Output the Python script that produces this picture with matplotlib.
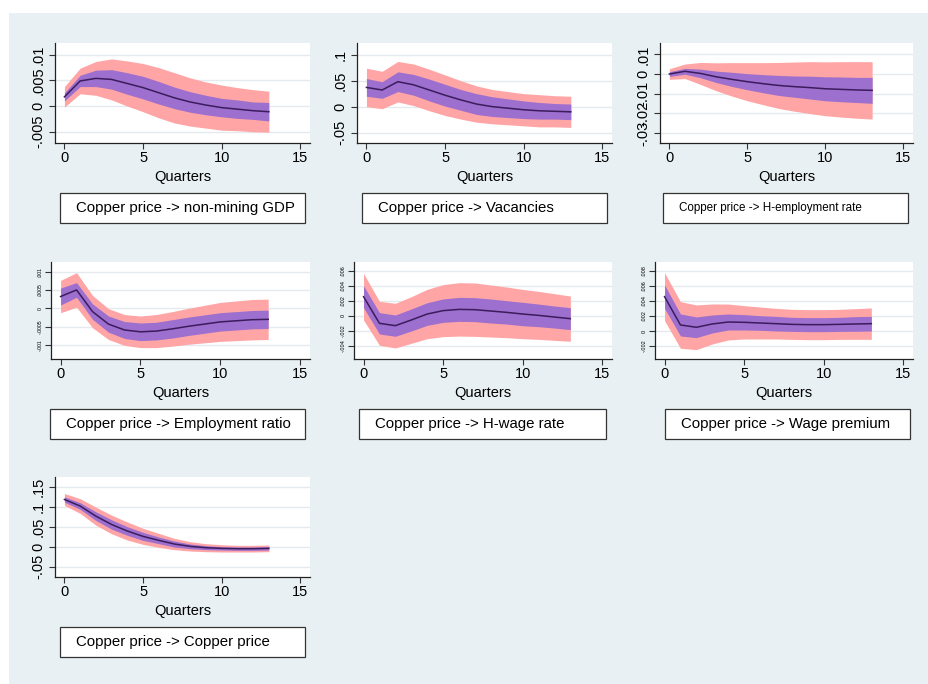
import numpy as np
import matplotlib
matplotlib.use("Agg")
import matplotlib.pyplot as plt
from matplotlib.patches import Rectangle
from matplotlib.transforms import offset_copy

plt.rcParams['font.family'] = ['Liberation Sans', 'DejaVu Sans']

# ---------------------------------------------------------------- data
quarters = np.arange(14)

gdp_irf = [0.0018, 0.0049, 0.0054, 0.0052, 0.0044, 0.0036, 0.0026, 0.0016, 0.0008, 0.0002, -0.0003, -0.0006, -0.0009, -0.0011]
gdp_w68 = [0.0008, 0.0011, 0.0016, 0.0019, 0.0021, 0.0022, 0.0022, 0.0021, 0.0020, 0.0019, 0.0018, 0.0018, 0.0017, 0.0018]
gdp_w95 = [0.0020, 0.0025, 0.0033, 0.0040, 0.0044, 0.0047, 0.0049, 0.0049, 0.0047, 0.0045, 0.0044, 0.0042, 0.0041, 0.0040]

vac_irf = [0.037, 0.032, 0.048, 0.042, 0.032, 0.022, 0.013, 0.005, 0.000, -0.003, -0.006, -0.008, -0.009, -0.010]
vac_w68 = [0.017, 0.016, 0.019, 0.020, 0.021, 0.021, 0.020, 0.020, 0.019, 0.018, 0.017, 0.016, 0.015, 0.015]
vac_w95 = [0.037, 0.036, 0.039, 0.040, 0.040, 0.039, 0.037, 0.035, 0.033, 0.032, 0.031, 0.031, 0.030, 0.030]

hemp_irf = [0.0, 0.0014, 0.0003, -0.0014, -0.0027, -0.0039, -0.0049, -0.0058, -0.0064, -0.0069, -0.0075, -0.0078, -0.0081, -0.0083]
hemp_w68 = [0.0012, 0.0015, 0.0022, 0.0029, 0.0036, 0.0041, 0.0046, 0.0051, 0.0054, 0.0058, 0.0061, 0.0063, 0.0064, 0.0066]
hemp_w95 = [0.0027, 0.0037, 0.0056, 0.0071, 0.0085, 0.0097, 0.0107, 0.0117, 0.0125, 0.0132, 0.0137, 0.0141, 0.0144, 0.0146]

emp_irf = [0.00032, 0.00050, -0.00009, -0.00043, -0.00059, -0.00064, -0.00062, -0.00056, -0.00049, -0.00043, -0.00037, -0.00034, -0.00031, -0.00030]
emp_w68 = [0.00023, 0.00020, 0.00021, 0.00022, 0.00023, 0.00024, 0.00024, 0.00025, 0.00025, 0.00025, 0.00025, 0.00025, 0.00025, 0.00025]
emp_w95 = [0.00044, 0.00047, 0.00044, 0.00042, 0.00042, 0.00043, 0.00045, 0.00047, 0.00049, 0.00051, 0.00053, 0.00054, 0.00055, 0.00055]

hwage_irf = [0.00253, -0.00102, -0.00133, -0.00058, 0.00022, 0.00067, 0.00084, 0.00080, 0.00062, 0.00044, 0.00022, 0.00004, -0.00018, -0.00040]
hwage_w68 = [0.00147, 0.00142, 0.00142, 0.00147, 0.00151, 0.00156, 0.00160, 0.00160, 0.00160, 0.00156, 0.00156, 0.00151, 0.00147, 0.00147]
hwage_w95 = [0.00311, 0.00293, 0.00298, 0.00311, 0.00329, 0.00347, 0.00356, 0.00356, 0.00347, 0.00338, 0.00329, 0.00320, 0.00311, 0.00302]

wprem_irf = [0.00455, 0.00080, 0.00049, 0.00093, 0.00119, 0.00115, 0.00106, 0.00097, 0.00088, 0.00084, 0.00084, 0.00088, 0.00093, 0.00097]
wprem_w68 = [0.00155, 0.00146, 0.00137, 0.00119, 0.00106, 0.00102, 0.00097, 0.00097, 0.00093, 0.00093, 0.00093, 0.00093, 0.00097, 0.00097]
wprem_w95 = [0.00318, 0.00309, 0.00296, 0.00265, 0.00238, 0.00221, 0.00212, 0.00203, 0.00199, 0.00199, 0.00199, 0.00199, 0.00203, 0.00208]

cu_irf = [0.119, 0.1025, 0.077, 0.056, 0.0395, 0.026, 0.016, 0.0067, 0.0008, -0.0025, -0.0042, -0.005, -0.005, -0.0042]
cu_w68 = [0.0067, 0.0084, 0.0109, 0.0118, 0.0109, 0.0101, 0.0084, 0.0076, 0.0059, 0.0050, 0.0042, 0.0042, 0.0042, 0.0042]
cu_w95 = [0.0151, 0.0185, 0.0227, 0.0235, 0.0227, 0.0202, 0.0176, 0.0143, 0.0118, 0.0101, 0.0092, 0.0084, 0.0084, 0.0084]

titles = [
    "Copper price -> non-mining GDP",
    "Copper price -> Vacancies",
    "Copper price -> H-employment rate",
    "Copper price -> Employment ratio",
    "Copper price -> H-wage rate",
    "Copper price -> Wage premium",
    "Copper price -> Copper price",
]

yticks_list = [
    [-0.005, 0, 0.005, 0.01],
    [-0.05, 0, 0.05, 0.1],
    [-0.03, -0.02, -0.01, 0, 0.01],
    [-0.001, -0.0005, 0, 0.0005, 0.001],
    [-0.004, -0.002, 0, 0.002, 0.004, 0.006],
    [-0.002, 0, 0.002, 0.004, 0.006, 0.008],
    [-0.05, 0, 0.05, 0.1, 0.15],
]
ylabels_list = [
    ["-.005", "0", ".005", ".01"],
    ["-.05", "0", ".05", ".1"],
    ["-.03", "-.02", "-.01", "0", ".01"],
    ["-.001", "-.0005", "0", ".0005", ".001"],
    ["-.004", "-.002", "0", ".002", ".004", ".006"],
    ["-.002", "0", ".002", ".004", ".006", ".008"],
    ["-.05", "0", ".05", ".1", ".15"],
]
xticks = [0, 5, 10, 15]
xlabels = ["0", "5", "10", "15"]

series = [
    (gdp_irf, gdp_w68, gdp_w95),
    (vac_irf, vac_w68, vac_w95),
    (hemp_irf, hemp_w68, hemp_w95),
    (emp_irf, emp_w68, emp_w95),
    (hwage_irf, hwage_w68, hwage_w95),
    (wprem_irf, wprem_w68, wprem_w95),
    (cu_irf, cu_w68, cu_w95),
]

# ---------------------------------------------------------------- layout (pixels)
W, H = 929, 684
DPI = 100

# (left, right, top, bottom) of each plot region
boxes = [
    (55, 310, 43, 143), (357, 612, 43, 143), (660, 913, 43, 143),
    (51, 310, 262, 359), (354, 612, 262, 359), (655, 913, 262, 359),
    (55, 310, 477, 577),
]
ylims = [
    (-0.0072, 0.0123), (-0.070, 0.1225), (-0.0351, 0.0158),
    (-0.00138, 0.00126), (-0.00578, 0.00716), (-0.00371, 0.00914),
    (-0.0764, 0.1757),
]
ytick_size = [10.5, 10.5, 10.5, 3.7, 4.0, 4.0, 10.5]
ytick_pad = [3, 3, 3, 2, 2, 2, 3]
title_size = [10.8, 10.8, 8.4, 10.8, 10.8, 10.8, 10.8]
legend_x = [(60, 305), (362, 607), (663, 908), (50, 305), (359, 606), (665, 910), (60, 305)]

BG = '#e8f0f3'
PINK = '#ffa5a5'
PURPLE = '#9d6fce'
LINE = '#3b1c5c'
GRID = '#e4eaed'


def fx(px):
    return px / W


def fy(py):
    return 1 - py / H


fig = plt.figure(figsize=(W / DPI, H / DPI), dpi=DPI, facecolor='white')
fig.add_artist(Rectangle((fx(9), 0), 1 - fx(9), fy(13), transform=fig.transFigure,
                         facecolor=BG, edgecolor='none', zorder=-10))

for i, ((irf, w68, w95), (l, r, t, b)) in enumerate(zip(series, boxes)):
    irf = np.asarray(irf)
    w68 = np.asarray(w68)
    w95 = np.asarray(w95)
    ax = fig.add_axes([fx(l), fy(b), (r - l) / W, (b - t) / H])
    ax.set_facecolor('white')
    ax.fill_between(quarters, irf - w95, irf + w95, color=PINK, lw=0, zorder=2)
    ax.fill_between(quarters, irf - w68, irf + w68, color=PURPLE, lw=0, zorder=3)
    ax.plot(quarters, irf, color=LINE, lw=1.1, zorder=4)

    ax.set_xlim(-0.6, 15.62)
    ax.set_ylim(*ylims[i])
    ax.set_xticks(xticks)
    ax.set_xticklabels(xlabels, fontsize=10.5)
    ax.set_yticks(yticks_list[i])
    ax.set_yticklabels(ylabels_list[i], fontsize=ytick_size[i], rotation=90, va='center')
    ax.tick_params(axis='x', length=4, width=0.8, color='#333333', pad=2)
    ax.tick_params(axis='y', length=4, width=0.8, color='#333333', pad=ytick_pad[i])
    for tk in ax.get_yticks():
        ax.axhline(tk, color=GRID, lw=1.0, zorder=1)
    for side in ('top', 'right'):
        ax.spines[side].set_visible(False)
    for side in ('left', 'bottom'):
        ax.spines[side].set_color('#222222')
        ax.spines[side].set_linewidth(0.9)

    # axis title
    tr = offset_copy(ax.get_xaxis_transform(), fig=fig, x=0, y=-34, units='dots')
    ax.text(7.5, 0, "Quarters", transform=tr, ha='center', va='center', fontsize=10.5)

    # caption box below each panel
    bl, br = legend_x[i]
    bt, bb = b + 50, b + 80
    fig.add_artist(Rectangle((fx(bl), fy(bb)), (br - bl) / W, (bb - bt) / H,
                             transform=fig.transFigure, facecolor='white',
                             edgecolor='#333333', lw=0.9, zorder=5))
    fig.text(fx(bl + 16), fy((bt + bb) / 2), titles[i], ha='left', va='center',
             fontsize=title_size[i], zorder=6)

fig.savefig('out.png', dpi=DPI, facecolor='white')
